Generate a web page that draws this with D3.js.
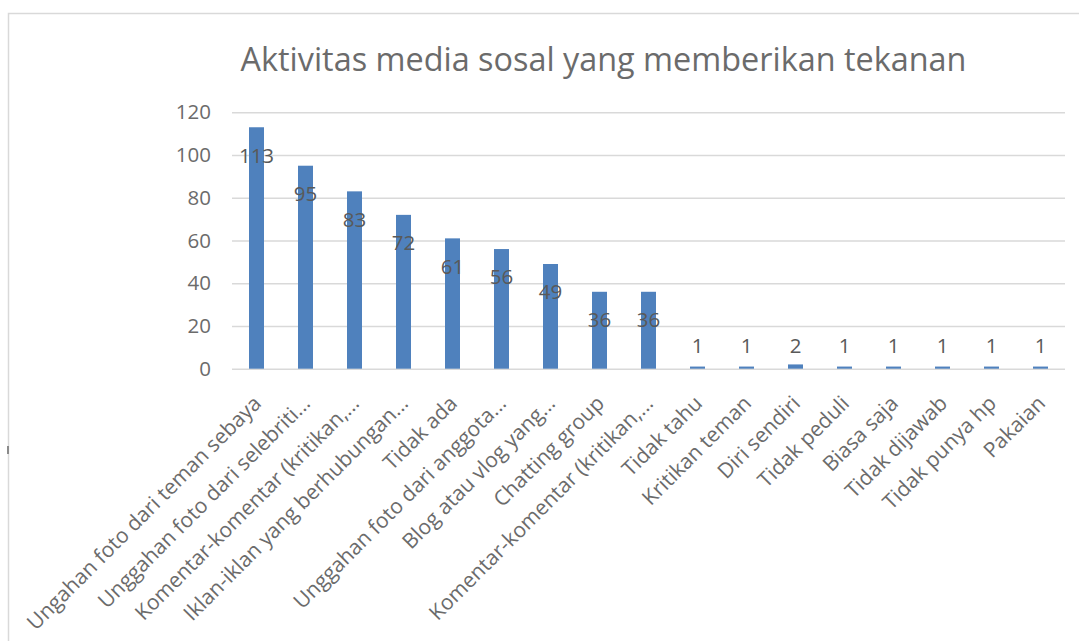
<!DOCTYPE html>
<html>
<head>
<meta charset="utf-8">
<script src="https://cdn.jsdelivr.net/npm/d3@7"></script>
<style>
  html, body { margin: 0; padding: 0; background: #fff; }
  svg { display: block; font-family: "Open Sans", sans-serif; }
</style>
</head>
<body>
<svg id="chart" width="1079" height="641"></svg>
<script>
// Chart data
const chartTitle = "Aktivitas media sosal yang memberikan tekanan";
const categories = [
  "Ungahan foto dari teman sebaya",
  "Unggahan foto dari selebriti...",
  "Komentar-komentar (kritikan,...",
  "Iklan-iklan yang berhubungan...",
  "Tidak ada",
  "Unggahan foto dari anggota...",
  "Blog atau vlog yang...",
  "Chatting group",
  "Komentar-komentar (kritikan,...",
  "Tidak tahu",
  "Kritikan teman",
  "Diri sendiri",
  "Tidak peduli",
  "Biasa saja",
  "Tidak dijawab",
  "Tidak punya hp",
  "Pakaian"
];
const values = [113, 95, 83, 72, 61, 56, 49, 36, 36, 1, 1, 2, 1, 1, 1, 1, 1];
const yTicks = [0, 20, 40, 60, 80, 100, 120];

const svg = d3.select("#chart");
const W = 1079, H = 641;

svg.append("rect").attr("width", W).attr("height", H).attr("fill", "#fff");

// chart area outline
svg.append("rect")
  .attr("x", 8.5).attr("y", 13.5)
  .attr("width", W + 20).attr("height", H + 20)
  .attr("fill", "none").attr("stroke", "#d9d9d9").attr("stroke-width", 1.5);
svg.append("rect").attr("x", 7).attr("y", 446).attr("width", 2).attr("height", 8).attr("fill", "#8a8a8a");

const plot = { left: 232, right: 1065, top: 112.3, bottom: 368.7 };

const x = d3.scaleBand()
  .domain(d3.range(categories.length))
  .range([plot.left, plot.right])
  .paddingInner(0.694)
  .paddingOuter(0.347);

const y = d3.scaleLinear()
  .domain([0, 120])
  .range([plot.bottom, plot.top]);

// title
svg.append("text")
  .attr("x", 603.5).attr("y", 71)
  .attr("text-anchor", "middle")
  .attr("font-size", 32.4)
  .attr("fill", "#6b6b6b")
  .text(chartTitle);

// gridlines
svg.append("g")
  .attr("transform", `translate(${plot.left},0)`)
  .call(d3.axisLeft(y).tickValues(yTicks).tickSize(-(plot.right - plot.left)).tickFormat(""))
  .call(g => g.select(".domain").remove())
  .call(g => g.selectAll(".tick line").attr("stroke", "#d9d9d9").attr("stroke-width", 1.5));

// y tick labels
svg.append("g")
  .attr("transform", `translate(${plot.left - 21},0)`)
  .call(d3.axisLeft(y).tickValues(yTicks).tickSize(0).tickPadding(0))
  .call(g => g.select(".domain").remove())
  .call(g => g.selectAll("text")
    .attr("font-family", "Open Sans, sans-serif")
    .attr("font-size", 20.5)
    .attr("fill", "#6b6b6b"));

// bars
svg.append("g").selectAll("rect")
  .data(values)
  .join("rect")
  .attr("x", (d, i) => x(i))
  .attr("y", d => y(d))
  .attr("width", x.bandwidth())
  .attr("height", d => y(0) - y(d))
  .attr("fill", "#4f81bd");

// data labels
svg.append("g").selectAll("text")
  .data(values)
  .join("text")
  .attr("x", (d, i) => x(i) + x.bandwidth() / 2)
  .attr("y", d => Math.min(y(d) + 28, y(0) - 23.5))
  .attr("dy", "0.36em")
  .attr("text-anchor", "middle")
  .attr("font-size", 20.5)
  .attr("fill", "#595959")
  .text(d => d);

// category labels, rotated
svg.append("g").selectAll("text")
  .data(categories)
  .join("text")
  .attr("transform", (d, i) => {
    const cx = x(i) + x.bandwidth() / 2 + 6;
    const cy = plot.bottom + 36;
    return `translate(${cx},${cy}) rotate(-45)`;
  })
  .attr("text-anchor", "end")
  .attr("font-size", 21)
  .attr("fill", "#6b6b6b")
  .text(d => d);
</script>
</body>
</html>
